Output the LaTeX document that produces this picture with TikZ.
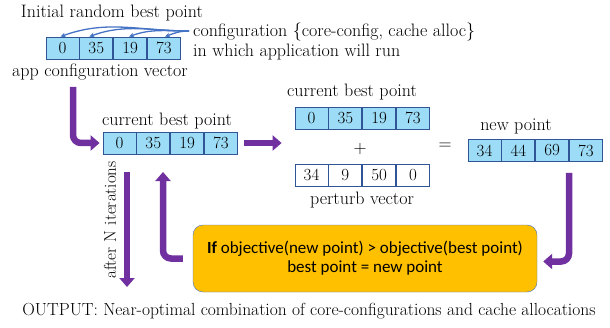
\documentclass[tikz,border=0pt]{standalone}
\usepackage{fontspec}
\newfontfamily\boxfont{Carlito}
\usetikzlibrary{arrows.meta,positioning}
\definecolor{cellblue}{HTML}{9DDCF6}
\definecolor{cellline}{HTML}{2F5597}
\definecolor{arrpurple}{HTML}{7030A0}
\definecolor{arrblue}{HTML}{4472C4}
\definecolor{boxorange}{HTML}{FFC000}
\tikzset{
	lbl/.style = {inner sep=0pt, font=\fontsize{18}{20}\selectfont},
	vcell/.style = {rectangle, draw=cellline, fill=cellblue, line width=0.8pt,
		minimum width=33pt, minimum height=22pt, inner sep=0pt,
		font=\fontsize{17}{19}\selectfont},
	vcell_w/.style = {vcell, fill=white},
	bigarrow/.style = {draw=arrpurple, line width=6.5pt, rounded corners=8pt,
		-{Triangle[width=15pt,length=9pt]}},
	thinarrow/.style = {draw=arrblue, line width=1.3pt,
		-{Stealth[length=5pt,width=4.5pt]}},
	rulebox/.style = {rectangle, rounded corners=10pt, draw=arrblue, fill=boxorange,
		minimum width=344pt, minimum height=67pt, align=center,
		font=\boxfont\fontsize{17}{19}\selectfont}
}
\begin{document}
\begin{tikzpicture}[x=1pt,y=1pt]
\useasboundingbox (0,0) rectangle (610,327);
% starting vector
\node [lbl] (initlbl) at (112,314) {Initial random best point};
\node [vcell] (a1) at (62.5,279) {0};
\node [vcell, right=0pt of a1] (a2) {35};
\node [vcell, right=0pt of a2] (a3) {19};
\node [vcell, right=0pt of a3] (a4) {73};
\node [lbl, anchor=west, align=left] (cfglbl) at (193,285.5)
	{configuration \{core-config, cache alloc\}\\in which application will run};
\node [lbl] (applbl) at (100,255) {app configuration vector};
\coordinate (src) at (189,296);
\draw [thinarrow] (src) to[out=180,in=20] ([xshift=-2pt]a1.north);
\draw [thinarrow] (src) to[out=180,in=20] ([xshift=-7pt]a2.north);
\draw [thinarrow] (src) to[out=180,in=20] ([xshift=-1pt]a3.north);
\draw [thinarrow] (src) to[out=180,in=20] ([xshift=1pt]a4.north);
% current best point
\node [lbl] (curlbl) at (167,206) {current best point};
\node [vcell] (b1) at (119.5,184) {0};
\node [vcell, right=0pt of b1] (b2) {35};
\node [vcell, right=0pt of b2] (b3) {19};
\node [vcell, right=0pt of b3] (b4) {73};
\coordinate (s1) at (73,240);
\draw [bigarrow] (s1) |- ([xshift=-3pt]b1.west);
% current best point + perturb vector
\node [lbl] (midlbl) at (352,235) {current best point};
\node [vcell] (c1) at (311.5,209) {0};
\node [vcell, right=0pt of c1] (c2) {35};
\node [vcell, right=0pt of c2] (c3) {19};
\node [vcell, right=0pt of c3] (c4) {73};
\node [lbl] (plus) at (360,178) {+};
\node [vcell_w] (d1) at (311.5,152) {34};
\node [vcell_w, right=0pt of d1] (d2) {9};
\node [vcell_w, right=0pt of d2] (d3) {50};
\node [vcell_w, right=0pt of d3] (d4) {0};
\node [lbl] (perlbl) at (362,127) {perturb vector};
\draw [bigarrow, shorten <=6pt, shorten >=13pt] (b4.east) -- (b4.east -| c1.west);
% new point
\node [lbl] (eq) at (445,181) {=};
\node [lbl] (newlbl) at (516,201) {new point};
\node [vcell] (n1) at (484.5,176.5) {34};
\node [vcell, right=0pt of n1] (n2) {44};
\node [vcell, right=0pt of n2] (n3) {69};
\node [vcell, right=0pt of n3] (n4) {73};
% acceptance test
\node [rulebox] (rule) at (365,68.5)
	{\textbf{If} objective(new point) > objective(best point)\\best point = new point};
\draw [bigarrow] ([yshift=-11pt]n3.south east) |- ([xshift=6pt,yshift=-3pt]rule.east);
\coordinate (backtip) at (163,155);
\draw [bigarrow] ([xshift=-10pt]rule.west) -| (backtip);
% output
\coordinate (itstart) at (127,155);
\coordinate (itend) at (127,40);
\draw [bigarrow] (itstart) -- (itend);
\node [lbl, rotate=90, font=\fontsize{17}{19}\selectfont] (itlbl) at (110,107) {after N iterations};
\node [lbl, font=\fontsize{17.5}{19}\selectfont] (outlbl) at (309,16)
	{OUTPUT: Near-optimal combination of core-configurations and cache allocations};
\end{tikzpicture}
\end{document}
